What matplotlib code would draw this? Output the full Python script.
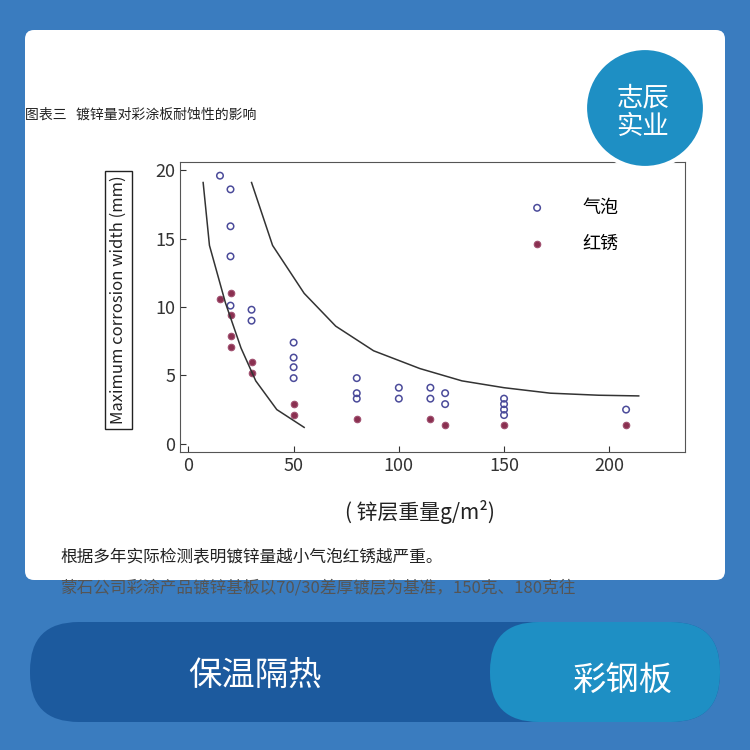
import matplotlib
matplotlib.use("Agg")
import matplotlib.pyplot as plt
from matplotlib.patches import FancyBboxPatch, Circle, Rectangle

plt.rcParams['font.family'] = ['Noto Sans CJK SC', 'DejaVu Sans']

bubble_x = [15, 20, 20, 20, 20, 30, 30, 50, 50, 50, 50, 80, 80, 80, 100, 100, 115, 115, 122, 122, 150, 150, 150, 150, 208]
bubble_y = [19.6, 18.6, 15.9, 13.7, 10.1, 9.8, 9.0, 7.4, 6.3, 5.6, 4.8, 4.8, 3.7, 3.3, 4.1, 3.3, 4.1, 3.3, 3.7, 2.9, 3.3, 2.9, 2.5, 2.1, 2.5]
rust_x = [15, 20, 20, 20, 20, 30, 30, 50, 50, 80, 115, 122, 150, 208]
rust_y = [10.6, 11.0, 9.4, 7.9, 7.1, 6.0, 5.2, 2.9, 2.1, 1.8, 1.8, 1.4, 1.4, 1.4]
inner_x = [7, 10, 17.6, 25, 32, 42, 55]
inner_y = [19.1, 14.5, 10.3, 7.0, 4.6, 2.5, 1.2]
outer_x = [30, 40, 55, 70, 88, 110, 130, 150, 172, 195, 214]
outer_y = [19.1, 14.5, 11.0, 8.6, 6.8, 5.5, 4.6, 4.1, 3.7, 3.55, 3.5]
xticks = [0, 50, 100, 150, 200]
yticks = [0, 5, 10, 15, 20]

fig = plt.figure(figsize=(7.5, 7.5), dpi=100)
fig.patch.set_facecolor('#3a7cbf')
W = 750
def fx(p): return p / W
def fy(p): return 1 - p / W

fig.patches.append(FancyBboxPatch((fx(25), fy(580)), fx(700), 550 / W, boxstyle="round,pad=0,rounding_size=0.012",
                                  transform=fig.transFigure, facecolor='white', edgecolor='none', zorder=-5))
fig.text(fx(25), fy(115), "图表三   镀锌量对彩涂板耐蚀性的影响", fontsize=10, va='center', color='#222')
fig.text(fx(60), fy(557), "根据多年实际检测表明镀锌量越小气泡红锈越严重。", fontsize=12, va='center', color='#222')
fig.text(fx(60), fy(588), "蒙石公司彩涂产品镀锌基板以70/30差厚镀层为基准，150克、180克往", fontsize=12, va='center', color='#555')
fig.patches.append(Rectangle((0, fy(620)), 1, 30 / W, transform=fig.transFigure, facecolor='#3a7cbf', edgecolor='none', zorder=-4))

ax = fig.add_axes([fx(180), fy(452), fx(505), 290 / W], zorder=1)
ax.scatter(bubble_x, bubble_y, s=22, facecolors='none', edgecolors='#4b4b9a', linewidths=1.1, label='气泡')
ax.scatter(rust_x, rust_y, s=22, facecolors='#8a3050', edgecolors='#a05070', linewidths=0.8, label='红锈')
ax.plot(inner_x, inner_y, color='#333', lw=1.1)
ax.plot(outer_x, outer_y, color='#333', lw=1.1)
ax.set_xlim(-4, 236)
ax.set_ylim(-0.6, 20.6)
ax.set_xticks(xticks)
ax.set_yticks(yticks)
ax.tick_params(labelsize=13, colors='#333', direction='in', length=4)
for s in ax.spines.values():
    s.set_color('#555')
ax.legend(loc='upper right', bbox_to_anchor=(0.9, 0.93), frameon=False, fontsize=13, handletextpad=1.5, labelspacing=1.0)
fig.text(fx(420), fy(512), "( 锌层重量g/m²)", fontsize=15, ha='center', va='center', color='#222')
fig.text(fx(118), fy(300), "Maximum corrosion width (mm)", fontsize=12, rotation=90, ha='center', va='center', color='#222',
         bbox=dict(boxstyle='square,pad=0.3', facecolor='white', edgecolor='#222'))

# logo
fig.patches.append(Circle((fx(645), fy(108)), 60 / W, transform=fig.transFigure, facecolor='#1e8fc4', edgecolor='white', lw=3, zorder=5))
fig.text(fx(643), fy(112), "志辰\n实业", fontsize=19, color='white', ha='center', va='center', linespacing=1.05, zorder=6)

# bottom bar
fig.patches.append(FancyBboxPatch((fx(30), fy(722)), fx(690), 100 / W, boxstyle="round,pad=0,rounding_size=0.065",
                                  transform=fig.transFigure, facecolor='#1c5a9e', edgecolor='none'))
fig.patches.append(FancyBboxPatch((fx(490), fy(722)), fx(230), 100 / W, boxstyle="round,pad=0,rounding_size=0.065",
                                  transform=fig.transFigure, facecolor='#1e8fc4', edgecolor='none'))
fig.text(fx(255), fy(675), "保温隔热", fontsize=24, color='white', ha='center', va='center')
fig.text(fx(622), fy(680), "彩钢板", fontsize=24, color='white', ha='center', va='center')

fig.savefig("out.png", dpi=100, facecolor=fig.get_facecolor())
